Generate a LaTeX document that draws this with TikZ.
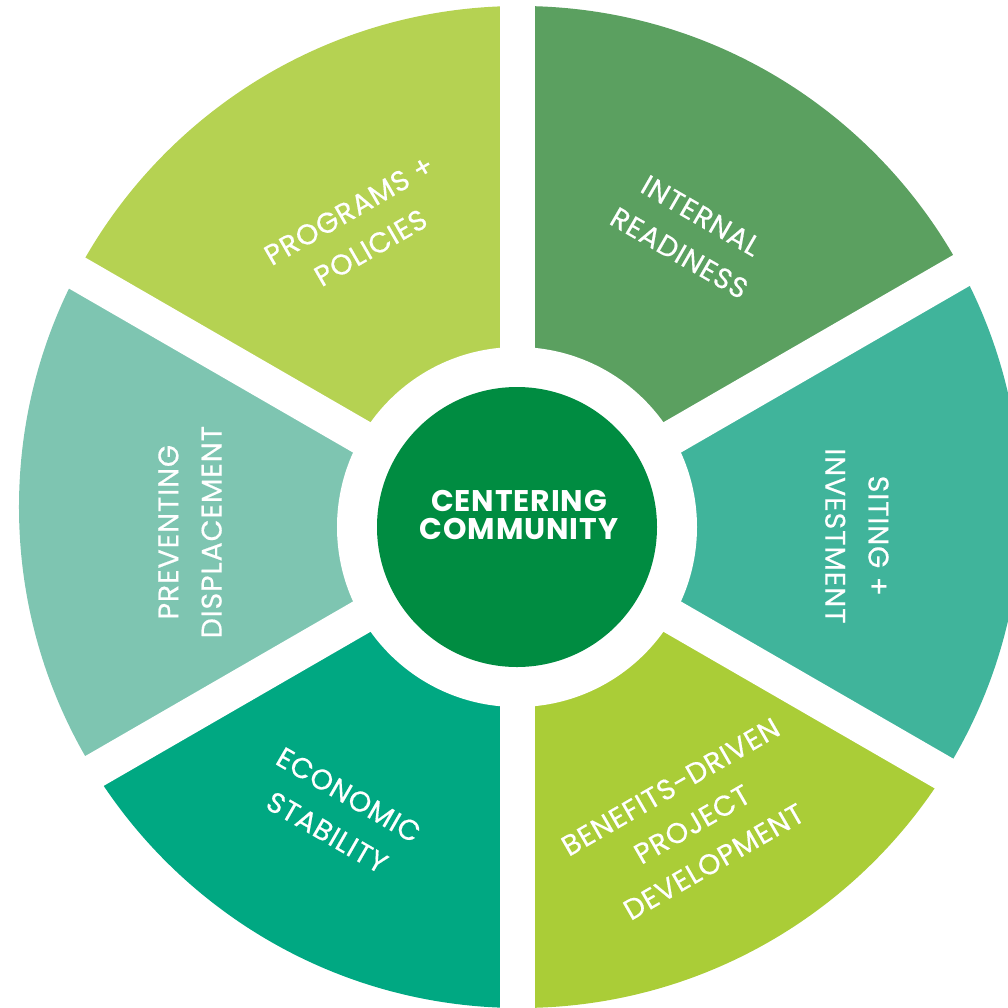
\documentclass[tikz,border=0pt]{standalone}
\usepackage{fontspec}
\setmainfont{Poppins}
\newfontfamily\segfont{Poppins}[LetterSpace=3, FakeBold=0.4]
\newfontfamily\hubfont{Poppins}[LetterSpace=3]
\usetikzlibrary{positioning}

\definecolor{programs}{HTML}{B5D252}
\definecolor{internal}{HTML}{5BA060}
\definecolor{siting}{HTML}{40B49B}
\definecolor{benefits}{HTML}{AACD37}
\definecolor{economic}{HTML}{00A882}
\definecolor{preventing}{HTML}{7EC5B1}
\definecolor{hubgreen}{HTML}{008C41}

\tikzset{
    seglabel/.style={text=white, align=center, font=\segfont\fontsize{16.2}{24.6}\selectfont},
    gap/.style={white, line width=0.7cm}
}

\begin{document}
\begin{tikzpicture}
        \useasboundingbox (-10.34, -9.6) rectangle (9.82, 10.54);

        % the six wedges, cut to the outer disc
        \begin{scope}
            \clip (0.06, 0.4) circle (10.02);
            \foreach \a/\col in {90/programs, 30/internal, -30/siting, -90/benefits, -150/economic, 150/preventing}
                \fill[\col] (0, 0) -- (\a:15) arc[start angle=\a, end angle=\a+60, radius=15] -- cycle;
        \end{scope}

        \foreach \a in {30, 90, ..., 330}
            \draw[gap] (0, 0) -- (\a:11);

        \fill[white] (0, 0) circle (3.6);

        \node (hub) at (0, 0)[circle, fill=hubgreen, minimum size=5.6cm] {};
        \node (hubtext) at (0.04, 0.24)[text=white, align=center, font=\hubfont\bfseries\fontsize{17}{15.6}\selectfont] {CENTERING\\COMMUNITY};

        \node (programs) at (117.8:6.74)[seglabel, rotate=30] {PROGRAMS +\\POLICIES};
        \node (internal) at (59.4:6.8)[seglabel, rotate=-30] {INTERNAL\\READINESS};
        \node (siting) at (-1.5:6.8)[seglabel, rotate=-90] {SITING +\\INVESTMENT};
        \node (preventing) at (180.9:6.54)[seglabel, rotate=90] {PREVENTING\\DISPLACEMENT};
        \node (economic) at (238:6.76)[seglabel, rotate=-30] {ECONOMIC\\STABILITY};
        \node (benefits) at (300.5:6.9)[seglabel, rotate=30] {BENEFITS-DRIVEN\\PROJECT\\DEVELOPMENT};
    \end{tikzpicture}
\end{document}
